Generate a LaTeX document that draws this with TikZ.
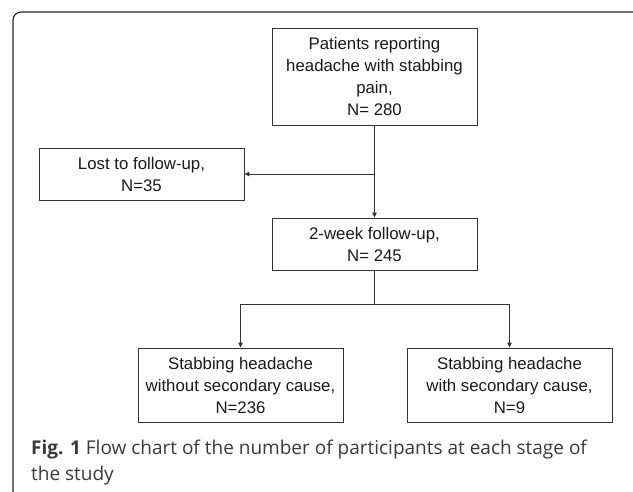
\documentclass[tikz,border=0pt]{standalone}
\usepackage{fontspec}
\setmainfont{Liberation Sans}
\newfontfamily\capfont{Open Sans}
\usetikzlibrary{arrows.meta}
\definecolor{boxline}{HTML}{333333}
\definecolor{captxt}{HTML}{3A3A3A}
\tikzset{
  flowbox/.style={draw=boxline, line width=0.9pt, minimum width=205pt, inner sep=0pt,
    align=center, text=black!90, font=\fontsize{16.8}{22}\selectfont},
  conn/.style={draw=boxline, line width=0.9pt},
  arr/.style={conn, -{Triangle[length=5pt,width=4.5pt]}},
  frame/.style={draw=black!85, line width=1.2pt, rounded corners=8pt},
  captext/.style={anchor=north west, align=left, inner sep=0pt, text=captxt,
    font=\capfont\fontsize{19}{26}\selectfont}
}
\begin{document}
\begin{tikzpicture}[x=1pt,y=-1pt]
\useasboundingbox (0,0) rectangle (633,491);
\clip (0,0) rectangle (633,491);
\draw[frame] (13,12) rectangle (642,499);
\node[flowbox, minimum height=97pt] (top) at (374.5,76.5)
  {Patients reporting\\headache with stabbing\\pain,\\N= 280};
\node[flowbox, minimum height=52pt] (lost) at (141.5,174)
  {Lost to follow-up,\\N=35};
\node[flowbox, minimum height=52pt] (two) at (374.5,244)
  {2-week follow-up,\\N= 245};
\node[flowbox, minimum height=74pt] (bl) at (240.5,385)
  {Stabbing headache\\without secondary cause,\\N=236};
\node[flowbox, minimum height=74pt] (br) at (509.5,385)
  {Stabbing headache\\with secondary cause,\\N=9};
\coordinate (branch) at (374.5,174);
\coordinate (split) at (374.5,304);
\draw[arr] (top.south) -- (two.north);
\draw[arr] (branch) -- (lost.east);
\draw[conn] (two.south) -- (split);
\draw[arr] (split) -| (bl.north);
\draw[arr] (split) -| (br.north);
\node[captext] (cap) at (31,440)
  {\textbf{Fig. 1} Flow chart of the number of participants at each stage of\\the study};
\end{tikzpicture}
\end{document}
